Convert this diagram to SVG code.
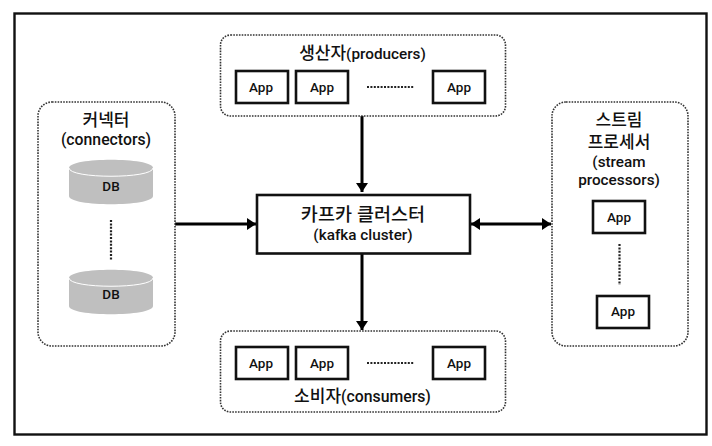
<svg xmlns="http://www.w3.org/2000/svg" width="712" height="446" viewBox="0 0 712 446">
<style>
text{font-family:Roboto,"Noto Sans CJK KR",sans-serif;font-weight:500;fill:#111;text-anchor:middle}
.t{font-size:15.300px}.a{font-size:13.500px}
.k{font-family:"Liberation Sans","Noto Sans CJK KR",sans-serif;font-weight:500;font-size:17px}
.g{fill:#fff;stroke:#333;stroke-width:1.6;stroke-dasharray:1.6 1.2}
.b{fill:#fff;stroke:#111;stroke-width:2.6}
.c{stroke:#000;stroke-width:3;fill:none}
.d{stroke:#222;stroke-width:2.200;stroke-dasharray:2 1.4;fill:none}
.cy{fill:#bfbfbf}.cl{fill:none;stroke:#fff;stroke-width:1}
</style>
<defs>
<marker id="ah" markerUnits="userSpaceOnUse" markerWidth="10" markerHeight="12" refX="9" refY="6" orient="auto-start-reverse"><path d="M0 0L9 6L0 12Z" fill="#000"/></marker>
<g id="cyl"><path class="cy" d="M0 8C0 -3 84 -3 84 8V36C84 47 0 47 0 36Z"/><path class="cl" d="M0 8C0 19 84 19 84 8"/></g>
</defs>
<rect width="712" height="446" fill="#fff"/>
<rect id="frame" x="14.500" y="13.500" width="692" height="421" fill="#fff" stroke="#111" stroke-width="2.400"/>
<g id="connectors">
<path class="c" d="M362 116V192" marker-end="url(#ah)"/>
<path class="c" d="M175 224H256" marker-end="url(#ah)"/>
<path class="c" d="M471 224H551" marker-start="url(#ah)" marker-end="url(#ah)"/>
<path class="c" d="M362 254V330" marker-end="url(#ah)"/>
</g>
<g id="producers">
<rect class="g" x="220.500" y="35" width="285" height="81" rx="10"/>
<text class="t" x="362.500" y="59"><tspan class="k">생산자</tspan>(producers)</text>
<rect class="b" x="236" y="71" width="52" height="32"/><text class="a" x="261" y="92">App</text>
<rect class="b" x="296" y="71" width="52" height="32"/><text class="a" x="322" y="92">App</text>
<path class="d" d="M367 87H414"/>
<rect class="b" x="433" y="71" width="52" height="32"/><text class="a" x="459" y="92">App</text>
</g>
<g id="connectors-node">
<rect class="g" x="38" y="102" width="137" height="244" rx="14"/>
<text class="k" x="106" y="126">커넥터</text>
<text style="font-size:15.800px" x="106" y="145">(connectors)</text>
<use href="#cyl" x="69" y="160"/><text class="a" x="111" y="191">DB</text>
<path class="d" d="M111 220V260"/>
<use href="#cyl" x="69" y="270"/><text class="a" x="111" y="299">DB</text>
</g>
<g id="cluster">
<rect x="257" y="195" width="213" height="58.500" fill="#fff" stroke="#111" stroke-width="2.600"/>
<text class="k" x="363" y="221" style="font-size:18.500px">카프카 클러스터</text>
<text x="363" y="239.500" style="font-size:15.300px">(kafka cluster)</text>
</g>
<g id="stream-processors">
<rect class="g" x="552" y="102" width="136" height="244" rx="14"/>
<text class="k" x="619" y="126">스트림</text>
<text class="k" x="619" y="148">프로세서</text>
<text style="font-size:15.300px" x="619" y="167">(stream</text>
<text style="font-size:15.300px" x="619" y="185">processors)</text>
<rect class="b" x="593" y="201" width="52" height="32"/><text class="a" x="619" y="222">App</text>
<path class="d" d="M619.500 244V285"/>
<rect class="b" x="597" y="296" width="52" height="32"/><text class="a" x="623" y="316">App</text>
</g>
<g id="consumers">
<rect class="g" x="220.500" y="331" width="285" height="81" rx="10"/>
<rect class="b" x="236" y="347" width="52" height="32"/><text class="a" x="261" y="368">App</text>
<rect class="b" x="296" y="347" width="52" height="32"/><text class="a" x="322" y="368">App</text>
<path class="d" d="M367 363H414"/>
<rect class="b" x="433" y="347" width="52" height="32"/><text class="a" x="459" y="368">App</text>
<text x="362.500" y="402" style="font-size:15.800px"><tspan class="k">소비자</tspan>(consumers)</text>
</g>
</svg>
